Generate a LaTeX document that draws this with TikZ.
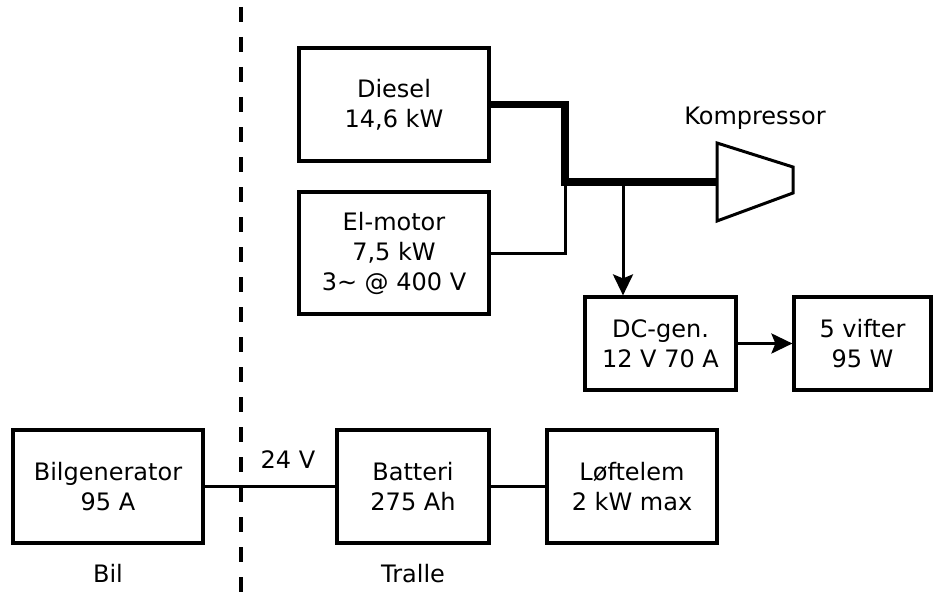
\documentclass[tikz,border=0pt]{standalone}
\usepackage{fontspec}
\setmainfont{DejaVu Sans}
\usetikzlibrary{arrows.meta}

\begin{document}
\begin{tikzpicture}[
  x=0.5pt, y=-0.5pt,
  >={Stealth[length=10.5pt, width=10pt, inset=2pt]},
  every node/.style={font=\fontsize{12}{15}\selectfont},
  box/.style={draw, line width=1.6pt, align=center, inner sep=0pt},
  shaft/.style={line width=3.8pt},
  wire/.style={line width=1.5pt},
  border/.style={line width=2pt, dash pattern=on 7.5pt off 7.5pt}
]
  % coordinates are pixels of the sketch, y pointing down
  \useasboundingbox (0,0) rectangle (936,599);
  \draw[border] (241,7) -- (241,599);

  \node[box, minimum width=95pt, minimum height=56.5pt] (diesel) at (394,104.5) {Diesel\\14,6 kW};
  \node[box, minimum width=95pt, minimum height=61pt] (elmotor) at (394,253) {El-motor\\7,5 kW\\3\char"223C{} @ 400 V};
  \node[box, minimum width=75.5pt, minimum height=46.5pt] (dcgen) at (660.5,343.5) {DC-gen.\\12 V 70 A};
  \node[box, minimum width=68.5pt, minimum height=46.5pt] (vifter) at (862.5,343.5) {5 vifter\\95 W};

  \node[box, minimum width=95pt, minimum height=56.5pt] (bilgen) at (108,486.5) {Bilgenerator\\95 A};
  \node[box, minimum width=76pt, minimum height=56.5pt] (batteri) at (413,486.5) {Batteri\\275 Ah};
  \node[box, minimum width=85pt, minimum height=56.5pt] (loftelem) at (632,486.5) {Løftelem\\2 kW max};

  % compressor
  \draw[wire] (717,143) -- (793,167) -- (793,193) -- (717,221) -- cycle;
  \coordinate (komp) at (717,182);
  \node[anchor=base] (komplabel) at (755,125) {Kompressor};

  \coordinate (shaftjoin) at (565,182);
  \coordinate (tap) at (623,182);
  \draw[shaft] (diesel.east) -| (shaftjoin) -- (komp);
  \draw[wire] (elmotor.east) -| (shaftjoin);
  \draw[wire, ->] (tap) -- (tap |- dcgen.north);
  \draw[wire, ->] (dcgen) -- (vifter);

  \draw[wire] (bilgen) -- (batteri);
  \draw[wire] (batteri) -- (loftelem);
  \node[anchor=base] (volt) at (288,468) {24 V};
  \node[anchor=base] (bil) at (108,582) {Bil};
  \node[anchor=base] (tralle) at (413,582) {Tralle};
\end{tikzpicture}
\end{document}
